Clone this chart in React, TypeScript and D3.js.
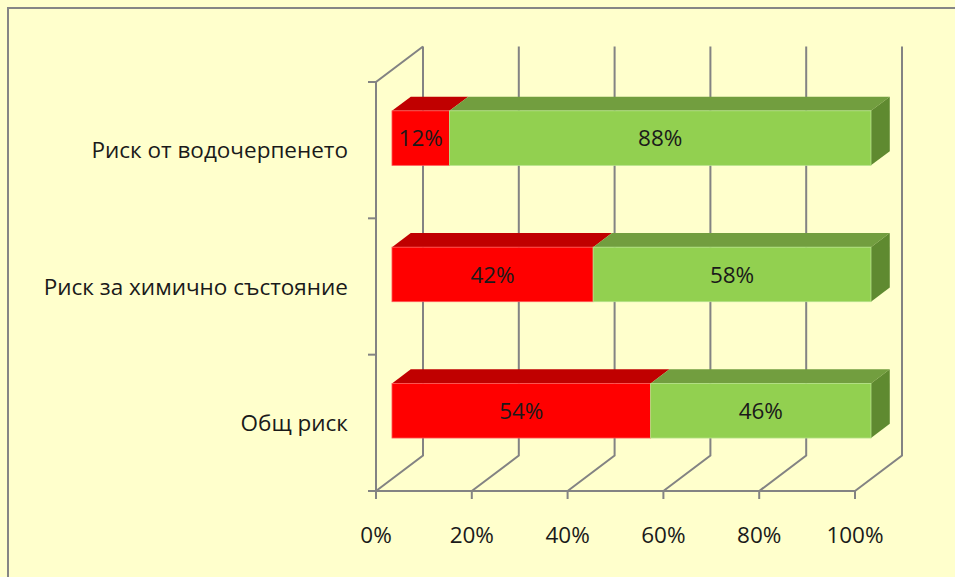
import { useEffect, useRef } from 'react'
import * as d3 from 'd3'

const categories = ['Риск от водочерпенето', 'Риск за химично състояние', 'Общ риск']
const riskValues = [12, 42, 54]
const noRiskValues = [88, 58, 46]
const tickValues = [0, 20, 40, 60, 80, 100]

const W = 955
const H = 577

// 3D depth vector of the plot box
const DX = 47
const DY = -35.5
// bar sits between these depth fractions
const F0 = 0.34
const F1 = 0.74

const colors = {
  red: { front: '#FF0000', top: '#C00000', side: '#A00000', edge: '#FF5a5a' },
  green: { front: '#92D050', top: '#729E3F', side: '#5F8A30', edge: '#B5E28A' },
}

export default function App() {
  const svgRef = useRef<SVGSVGElement>(null)

  useEffect(() => {
    document.body.style.margin = '0'
    if (!svgRef.current) return
    const svg = d3.select(svgRef.current)
    svg.selectAll('*').remove()

    const x = d3.scaleLinear().domain([0, 100]).range([376, 855])
    const y = d3.scaleBand<string>().domain(categories).range([82, 491]).padding(0)
    const barH = y.bandwidth() * 0.4
    const font = '"Open Sans", "Noto Sans", sans-serif'
    const fs = 22.5
    const txt = '#1a1a1a'
    const grid = '#838383'

    // background + frame
    svg.append('rect').attr('width', W).attr('height', H).attr('fill', '#FFFFCC')
    svg.append('path')
      .attr('d', `M8,${H} L8,8 L${W},8`)
      .attr('fill', 'none').attr('stroke', '#868686').attr('stroke-width', 2)

    const g = svg.append('g')
    const y0 = y.range()[0]
    const y1 = y.range()[1]

    // back wall gridlines + floor diagonals
    tickValues.forEach((t) => {
      const xf = x(t)
      g.append('path')
        .attr('d', `M${xf},${y1} L${xf + DX},${y1 + DY} L${xf + DX},${y0 + DY}`)
        .attr('fill', 'none').attr('stroke', grid).attr('stroke-width', 2)
      // tick below axis
      g.append('line')
        .attr('x1', xf).attr('x2', xf).attr('y1', y1).attr('y2', y1 + 8)
        .attr('stroke', grid).attr('stroke-width', 2)
      g.append('text')
        .attr('x', xf).attr('y', 535)
        .attr('dy', '0.36em')
        .attr('text-anchor', 'middle')
        .attr('font-family', font).attr('font-size', fs).attr('fill', txt)
        .text(`${t}%`)
    })

    // left wall: front axis + top diagonal
    g.append('path')
      .attr('d', `M${x(0)},${y1} L${x(0)},${y0} L${x(0) + DX},${y0 + DY}`)
      .attr('fill', 'none').attr('stroke', grid).attr('stroke-width', 2)
    // bottom axis
    g.append('line')
      .attr('x1', x(0) - 8).attr('x2', x(100)).attr('y1', y1).attr('y2', y1)
      .attr('stroke', grid).attr('stroke-width', 2)
    // category ticks on vertical axis
    const boundaries = [y0, ...categories.map((c) => (y(c) as number) + y.bandwidth())]
    boundaries.forEach((b) => {
      g.append('line')
        .attr('x1', x(0) - 8).attr('x2', x(0)).attr('y1', b).attr('y2', b)
        .attr('stroke', grid).attr('stroke-width', 2)
    })

    // category labels
    categories.forEach((c) => {
      g.append('text')
        .attr('x', 348).attr('y', (y(c) as number) + y.bandwidth() / 2)
        .attr('dy', '0.36em')
        .attr('text-anchor', 'end')
        .attr('font-family', font).attr('font-size', fs).attr('fill', txt)
        .text(c)
    })

    // bars
    const ox0 = DX * F0, oy0 = DY * F0
    const ox1 = DX * F1, oy1 = DY * F1
    categories.forEach((c, i) => {
      const cy = (y(c) as number) + y.bandwidth() / 2
      const top = cy - barH / 2 + oy0
      const bot = cy + barH / 2 + oy0
      const segs = [
        { a: 0, b: riskValues[i], col: colors.red },
        { a: riskValues[i], b: riskValues[i] + noRiskValues[i], col: colors.green },
      ]
      segs.forEach((s, k) => {
        const xa = x(s.a) + ox0
        const xb = x(s.b) + ox0
        const dxx = ox1 - ox0, dyy = oy1 - oy0
        // top face
        g.append('path')
          .attr('d', `M${xa},${top} L${xa + dxx},${top + dyy} L${xb + dxx},${top + dyy} L${xb},${top} Z`)
          .attr('fill', s.col.top)
        // side face (only visible for the last segment)
        if (k === segs.length - 1) {
          g.append('path')
            .attr('d', `M${xb},${top} L${xb + dxx},${top + dyy} L${xb + dxx},${bot + dyy} L${xb},${bot} Z`)
            .attr('fill', s.col.side)
        }
        // front face
        g.append('rect')
          .attr('x', xa).attr('y', top).attr('width', xb - xa).attr('height', bot - top)
          .attr('fill', s.col.front)
          .attr('stroke', s.col.edge).attr('stroke-width', 0.8)
        g.append('text')
          .attr('x', (xa + xb) / 2).attr('y', (top + bot) / 2)
          .attr('dy', '0.36em')
          .attr('text-anchor', 'middle')
          .attr('font-family', font).attr('font-size', fs).attr('fill', txt)
          .text(`${s.b - s.a}%`)
      })
    })
  }, [])

  return (
    <div style={{ position: 'absolute', left: 0, top: 0 }}>
      <svg ref={svgRef} width={W} height={H} style={{ display: 'block' }} />
    </div>
  )
}
